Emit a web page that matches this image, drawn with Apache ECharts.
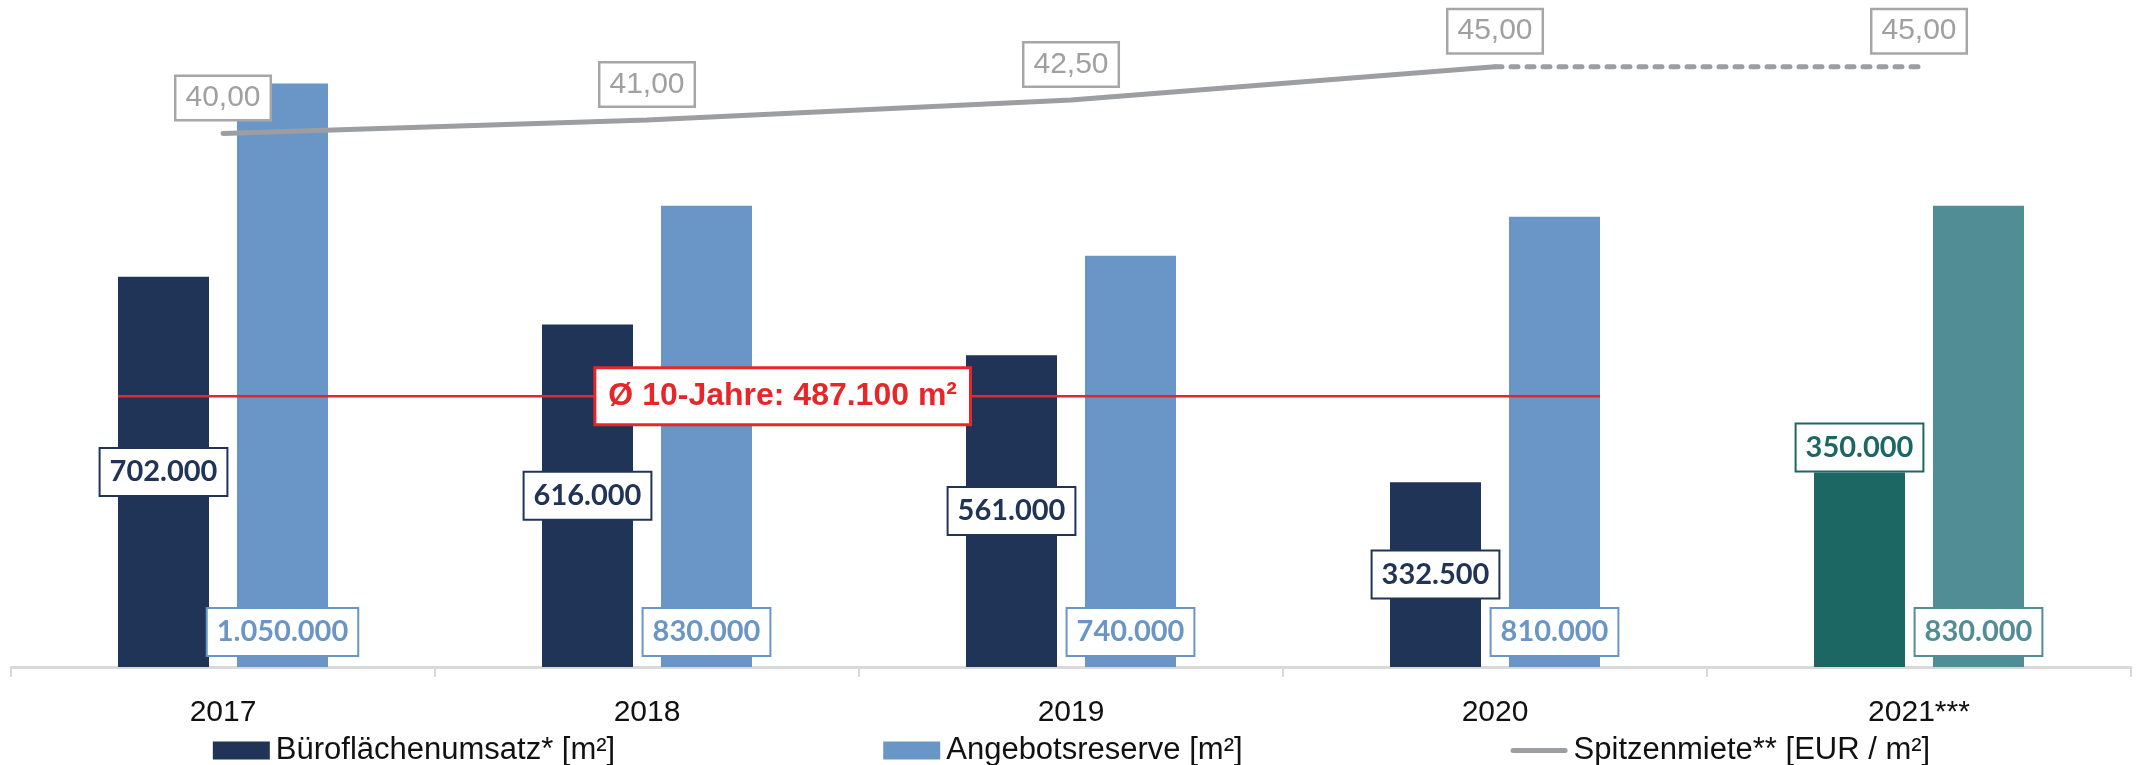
<!DOCTYPE html>
<html>
<head>
<meta charset="utf-8">
<script src="https://cdn.jsdelivr.net/npm/echarts@6/dist/echarts.min.js"></script>
<style>
  html, body { margin: 0; padding: 0; background: #fff; }
  #chart { width: 2143px; height: 765px; }
</style>
</head>
<body>
<div id="chart"></div>
<script>
// Daten
const years = ['2017', '2018', '2019', '2020', '2021***'];
const umsatz = [702000, 616000, 561000, 332500, 350000];
const reserve = [1050000, 830000, 740000, 810000, 830000];
const miete = [40.0, 41.0, 42.5, 45.0, 45.0];
const avg10 = 487100;
const avgYears = ['2017', '2020']; // Ø-Linie von 2017 bis 2020

const NAVY = '#203457';
const LIGHT = '#6996C7';
const TEAL_D = '#1C6664';
const TEAL_L = '#508D95';
const GREY = '#9D9EA2';
const RED = '#E8262A';
const FONT = "'Liberation Sans', Arial, sans-serif";
const LABEL_FONT = "Lato, 'Open Sans', sans-serif";

const gridL = 11, gridR = 12;
const barW = 91, barGapPx = 28;
const catW = (2143 - gridL - gridR) / years.length;
const halfSpan = (2 * barW + barGapPx) / 2 / catW;

const de = (v) => v.toLocaleString('de-DE');
const euro = (v) => v.toFixed(2).replace('.', ',');

let myChart = echarts.init(document.getElementById('chart'));

// Wertelabel im Kasten
const boxLabel = (color) => ({
  show: true,
  fontFamily: LABEL_FONT,
  fontSize: 29,
  fontWeight: 'bold',
  color: color,
  backgroundColor: '#fff',
  borderColor: color,
  borderWidth: 2,
  padding: [6, 9],
  lineHeight: 34,
  formatter: (p) => de(p.value),
});

const last = years.length - 1;
const hidden = { color: 'rgba(0,0,0,0)', opacity: 1 };
// Legendensymbol: dicke Linie mit runden Enden
const lineIcon = 'path://M2.5,0 H54.5 A2.5,2.5 0 0 1 54.5,5 H2.5 A2.5,2.5 0 0 1 2.5,0 Z';

let option = {
  animation: false,
  textStyle: { fontFamily: FONT },
  grid: { left: gridL, right: gridR, top: 0, bottom: 98, containLabel: false },
  legend: {
    top: 730,
    left: 'center',
    itemGap: 268,
    itemWidth: 57,
    itemHeight: 18,
    textStyle: { fontSize: 31, color: '#111', fontFamily: FONT, padding: [0, 0, 0, 1] },
    data: [
      { name: 'Büroflächenumsatz* [m²]', icon: 'rect' },
      { name: 'Angebotsreserve [m²]', icon: 'rect' },
      { name: 'Spitzenmiete** [EUR / m²]', icon: lineIcon, itemStyle: { color: GREY } },
    ],
  },
  xAxis: [
    {
      type: 'category',
      data: years,
      axisLine: { lineStyle: { color: '#D9D9D9', width: 3 } },
      axisTick: { show: true, length: 10, lineStyle: { color: '#D9D9D9', width: 2 } },
      axisLabel: { fontSize: 30, color: '#111', margin: 31, fontFamily: FONT },
    },
    { type: 'value', min: -0.5, max: years.length - 0.5, show: false },
  ],
  yAxis: [
    { type: 'value', min: 0, max: 1200000, show: false, splitLine: { show: false } },
    { type: 'value', min: 0, max: 50, show: false, splitLine: { show: false } },
  ],
  series: [
    {
      name: 'Büroflächenumsatz* [m²]',
      type: 'bar',
      barWidth: barW,
      barGap: (barGapPx / barW * 100) + '%',
      itemStyle: { color: NAVY },
      label: Object.assign(boxLabel(NAVY), { position: 'inside' }),
      data: umsatz.map((v, i) => i === last ? {
        value: v,
        itemStyle: { color: TEAL_D },
        label: { position: 'top', distance: 2, color: TEAL_D, borderColor: TEAL_D },
      } : v),
      z: 2,
    },
    {
      name: 'Angebotsreserve [m²]',
      type: 'bar',
      barWidth: barW,
      itemStyle: { color: LIGHT },
      label: Object.assign(boxLabel(LIGHT), { position: 'insideBottom', distance: 12 }),
      data: reserve.map((v, i) => i === last ? {
        value: v,
        itemStyle: { color: TEAL_L },
        label: { color: TEAL_L, borderColor: TEAL_L },
      } : v),
      z: 2,
    },
    {
      name: 'Spitzenmiete** [EUR / m²]',
      type: 'line',
      yAxisIndex: 1,
      symbol: 'none',
      lineStyle: { color: GREY, width: 5, cap: 'round' },
      itemStyle: { color: GREY },
      data: miete.map((v, i) => (i < last ? v : '-')),
      z: 5,
    },
    {
      name: 'Spitzenmiete Prognose',
      type: 'line',
      yAxisIndex: 1,
      symbol: 'none',
      lineStyle: { color: GREY, width: 5, type: [7, 9], cap: 'round' },
      data: miete.map((v, i) => (i >= last - 1 ? v : '-')),
      z: 4,
    },
    {
      // Beschriftung der Spitzenmiete
      name: 'Spitzenmiete Werte',
      type: 'scatter',
      yAxisIndex: 1,
      symbolSize: 1,
      itemStyle: hidden,
      label: {
        show: true,
        position: 'top',
        distance: 14,
        fontFamily: FONT,
        fontSize: 30,
        color: '#A0A0A0',
        backgroundColor: '#fff',
        borderColor: '#A6A6A6',
        borderWidth: 2.5,
        padding: [5, 9],
        lineHeight: 32,
        formatter: (p) => euro(Array.isArray(p.value) ? p.value[1] : p.value),
      },
      data: miete,
      z: 6,
    },
    {
      name: 'Ø 10-Jahre',
      type: 'line',
      xAxisIndex: 1,
      symbol: 'none',
      lineStyle: { color: RED, width: 2.5 },
      data: [
        [years.indexOf(avgYears[0]) - halfSpan, avg10],
        [years.indexOf(avgYears[1]) + halfSpan, avg10],
      ],
      z: 3,
    },
    {
      name: 'Ø Label',
      type: 'scatter',
      xAxisIndex: 1,
      symbolSize: 1,
      itemStyle: hidden,
      label: {
        show: true,
        position: 'inside',
        fontFamily: FONT,
        fontSize: 32,
        fontWeight: 'bold',
        color: RED,
        backgroundColor: '#fff',
        borderColor: RED,
        borderWidth: 3,
        padding: [10, 12],
        lineHeight: 34,
        formatter: () => 'Ø 10-Jahre: ' + de(avg10) + ' m²',
      },
      data: [[1.32, avg10]],
      z: 10,
    },
  ],
};

myChart.setOption(option);
</script>
</body>
</html>
